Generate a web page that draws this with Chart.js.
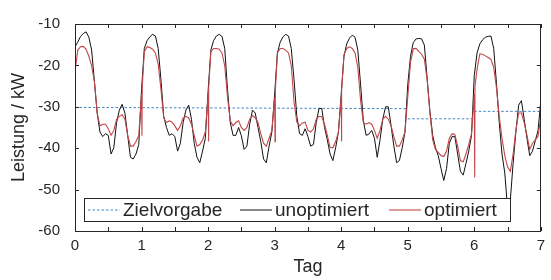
<!DOCTYPE html>
<html>
<head>
<meta charset="utf-8">
<script src="https://cdn.jsdelivr.net/npm/chart.js@4.4.1/dist/chart.umd.min.js"></script>
<style>
  html, body { margin: 0; padding: 0; background: #fff; }
</style>
</head>
<body>
<canvas id="chart" width="551" height="280"></canvas>
<script>
// Zeitachse: ein Wert pro Stunde, 7 Tage
const stunden = Array.from({ length: 169 }, (_, i) => i / 24);

const unoptimiert = [
  -15.5, -14.4, -13.0, -12.3, -11.9, -13.2, -16.3, -23.9, -31.5, -36.1, -37.2, -36.5, -36.9, -41.4, -39.9, -33.8, -30.8, -29.4, -31.5, -36.9, -42.2, -42.6, -41.4, -39.1,
  -25.8, -15.9, -14.0, -13.1, -12.5, -12.9, -15.9, -23.5, -32.3, -35.0, -36.9, -36.5, -37.2, -40.7, -38.8, -33.8, -30.8, -29.6, -33.0, -38.8, -42.2, -43.5, -40.7, -37.6,
  -26.2, -16.3, -14.0, -12.9, -12.5, -13.0, -15.9, -25.8, -33.8, -36.9, -36.9, -35.0, -37.0, -40.3, -39.5, -34.2, -30.8, -31.5, -35.0, -38.4, -42.6, -43.5, -39.5, -36.1,
  -26.9, -17.0, -14.4, -13.1, -12.5, -12.9, -15.9, -23.5, -32.3, -36.5, -36.9, -35.3, -37.2, -39.5, -39.1, -33.8, -30.4, -30.4, -35.0, -38.0, -41.4, -43.0, -39.9, -36.1,
  -26.9, -17.8, -14.8, -13.4, -12.7, -13.2, -16.3, -24.7, -33.4, -36.9, -36.6, -35.7, -37.6, -42.2, -38.0, -33.0, -30.0, -30.0, -34.6, -39.5, -43.5, -43.0, -39.9, -36.1,
  -24.7, -17.8, -14.5, -13.6, -13.5, -13.6, -15.1, -23.1, -31.1, -36.9, -39.9, -41.8, -44.9, -47.8, -44.9, -38.8, -37.2, -37.2, -41.4, -45.6, -46.5, -43.7, -40.7, -36.9,
  -22.4, -17.0, -14.8, -13.8, -13.2, -13.0, -12.9, -15.9, -24.3, -33.8, -41.4, -46.0, -54.5, -52.5, -43.7, -36.1, -29.6, -28.5, -33.0, -37.6, -41.8, -40.7, -38.2, -35.7,
  -28.5
];

const optimiert = [
  -21.5, -16.3, -15.5, -15.4, -16.1, -17.8, -20.1, -23.9, -31.5, -34.6, -34.2, -34.2, -35.3, -36.9, -35.7, -33.0, -32.3, -31.9, -33.0, -36.9, -39.5, -39.5, -38.4, -36.9,
  -27.0, -16.7, -15.5, -15.7, -16.1, -17.0, -19.7, -25.8, -32.7, -33.8, -33.4, -33.7, -34.6, -35.7, -34.6, -32.7, -32.3, -32.7, -34.2, -36.9, -39.5, -39.1, -38.0, -36.1,
  -27.3, -16.7, -15.9, -15.9, -16.1, -17.0, -20.1, -27.7, -33.4, -34.6, -33.8, -33.4, -35.0, -35.7, -35.0, -33.0, -32.1, -32.7, -33.8, -36.5, -38.8, -39.5, -37.6, -35.7,
  -27.7, -17.0, -15.9, -15.9, -16.3, -17.0, -20.1, -28.9, -33.7, -34.6, -33.9, -33.7, -35.7, -36.1, -35.3, -33.0, -32.3, -32.4, -34.2, -36.9, -39.8, -39.9, -38.4, -36.1,
  -27.7, -17.4, -15.9, -15.5, -15.9, -17.0, -20.5, -28.5, -33.8, -34.2, -33.8, -34.2, -35.7, -37.6, -35.7, -33.0, -32.3, -33.0, -34.6, -37.2, -39.5, -39.5, -38.0, -36.1,
  -27.7, -19.3, -16.0, -15.9, -16.6, -17.3, -18.5, -23.5, -31.5, -38.0, -40.3, -41.0, -41.8, -42.0, -40.7, -37.6, -36.5, -36.7, -39.5, -43.0, -43.3, -41.4, -39.1, -36.5,
  -26.9, -20.9, -17.2, -17.3, -17.7, -18.1, -18.5, -20.5, -25.4, -32.3, -37.6, -41.8, -44.5, -45.6, -41.4, -35.7, -31.5, -31.5, -33.8, -36.9, -40.3, -38.8, -38.0, -37.2,
  -32.3
];

// kurze Einbrüche der optimierten Kurve am Tageswechsel (Spitze + Rückkehr)
const spitzenTag  = [1.006, 1.011, 2.006, 2.011, 3.006, 3.011, 4.004, 4.009, 6.006, 6.011];
const spitzenWert = [-37.0, -25.0, -38.4, -25.5, -38.4, -26.0, -38.4, -26.0, -47.1, -25.0];

// Zielvorgabe: Abschnitte (von Tag, bis Tag, Wert am Anfang, Wert am Ende)
const zielVon    = [0, 5, 6];
const zielBis    = [5, 6, 7];
const zielAnfang = [-30.15, -32.9, -31.1];
const zielEnde   = [-30.45, -32.9, -31.1];

const schrift = "'Liberation Sans', Arial, Helvetica, sans-serif";
const achsFarbe = '#262626';

// Datenpunkte zusammenbauen
let zielPunkte = [];
zielVon.forEach((v, i) => {
  zielPunkte.push({ x: v, y: zielAnfang[i] });
  zielPunkte.push({ x: zielBis[i], y: zielEnde[i] });
  zielPunkte.push({ x: zielBis[i], y: null });
});
let schwarzPunkte = stunden.map((t, i) => ({ x: t, y: unoptimiert[i] }));
let rotPunkte = stunden.map((t, i) => ({ x: t, y: optimiert[i] }));
spitzenTag.forEach((t, i) => rotPunkte.push({ x: t, y: spitzenWert[i] }));
rotPunkte.sort((a, b) => a.x - b.x);

// Rahmen, Ticks nach innen und Legende im Diagramm (wie Matlab)
const matlabAchsen = {
  id: 'matlabAchsen',
  afterDatasetsDraw(chart) {
    const { ctx, chartArea: a, scales: { x, y } } = chart;
    ctx.save();
    ctx.strokeStyle = achsFarbe;
    ctx.lineWidth = 1;
    ctx.beginPath();
    for (let t = 0; t <= 7; t += 0.5) {
      const px = Math.round(x.getPixelForValue(t)) + 0.5;
      ctx.moveTo(px, a.bottom); ctx.lineTo(px, a.bottom - 4);
      ctx.moveTo(px, a.top); ctx.lineTo(px, a.top + 4);
    }
    for (let v = -60; v <= -10; v += 10) {
      const py = Math.round(y.getPixelForValue(v)) + 0.5;
      ctx.moveTo(a.left, py); ctx.lineTo(a.left + 4, py);
      ctx.moveTo(a.right, py); ctx.lineTo(a.right - 4, py);
    }
    ctx.stroke();
    ctx.strokeRect(Math.round(a.left) + 0.5, Math.round(a.top) + 0.5,
                   Math.round(a.right - a.left) - 1, Math.round(a.bottom - a.top));

    // Legende
    const lx = 84.5, ly = 198.5, lw = 426, lh = 23;
    ctx.fillStyle = '#fff';
    ctx.fillRect(lx, ly, lw, lh);
    ctx.strokeRect(lx, ly, lw, lh);
    const startX = [88, 240, 389];
    const mitteY = ly + lh / 2;
    ctx.font = '19px ' + schrift;
    ctx.textBaseline = 'middle';
    chart.data.datasets.forEach((ds, i) => {
      ctx.strokeStyle = ds.borderColor;
      ctx.lineWidth = ds.borderWidth;
      ctx.setLineDash(ds.borderDash || []);
      ctx.beginPath();
      ctx.moveTo(startX[i], mitteY);
      ctx.lineTo(startX[i] + 32, mitteY);
      ctx.stroke();
      ctx.setLineDash([]);
      ctx.fillStyle = achsFarbe;
      ctx.fillText(ds.label, startX[i] + 35, mitteY + 1);
    });
    ctx.restore();
  }
};

const ctx = document.getElementById('chart').getContext('2d');
const chart = new Chart(ctx, {
  type: 'line',
  data: {
    datasets: [
      { label: 'Zielvorgabe', data: zielPunkte, borderColor: '#3f86c4', borderWidth: 1,
        borderDash: [2.5, 2], spanGaps: false, order: 3 },
      { label: 'unoptimiert', data: schwarzPunkte, borderColor: '#111111', borderWidth: 1, order: 2 },
      { label: 'optimiert', data: rotPunkte, borderColor: '#c2474a', borderWidth: 1.1, order: 1 }
    ]
  },
  options: {
    responsive: false,
    animation: false,
    layout: { padding: { top: 12, right: 1, left: 0, bottom: 0 } },
    elements: { point: { radius: 0 }, line: { tension: 0 } },
    plugins: { legend: { display: false }, tooltip: { enabled: false } },
    scales: {
      x: {
        type: 'linear', min: 0, max: 7,
        grid: { display: false, drawTicks: false },
        border: { display: false },
        ticks: { stepSize: 1, padding: 6, color: achsFarbe, font: { family: schrift, size: 15 } },
        title: { display: true, text: 'Tag', color: achsFarbe, font: { family: schrift, size: 18 },
                 padding: { top: 0, bottom: 2 } },
        afterFit: (s) => { s.height = 49; }
      },
      y: {
        min: -60, max: -10,
        grid: { display: false, drawTicks: false },
        border: { display: false },
        ticks: { stepSize: 10, padding: 15, color: achsFarbe, font: { family: schrift, size: 15 } },
        title: { display: true, text: 'Leistung / kW', color: achsFarbe, font: { family: schrift, size: 18 },
                 padding: { top: 8, bottom: 0 } },
        afterFit: (s) => { s.width = 75; }
      }
    }
  },
  plugins: [matlabAchsen]
});
</script>
</body>
</html>
